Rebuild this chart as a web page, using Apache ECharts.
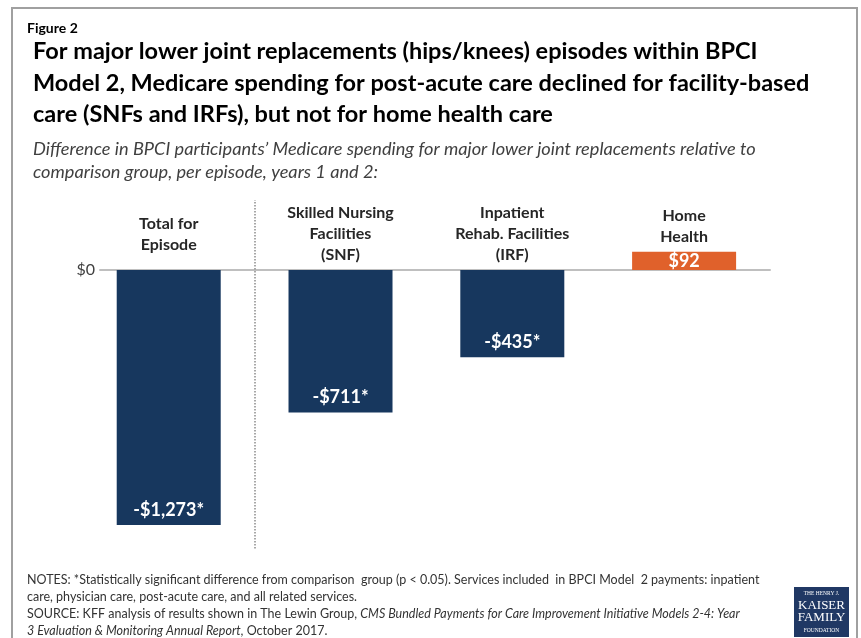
<!DOCTYPE html>
<html>
<head>
<meta charset="utf-8">
<script src="https://cdn.jsdelivr.net/npm/echarts@6/dist/echarts.min.js"></script>
<style>
  html, body { margin: 0; padding: 0; background: #fff; }
  #chart { width: 861px; height: 638px; }
</style>
</head>
<body>
<div id="chart"></div>
<script>
// chart data
const categories = ['Total for\nEpisode', 'Skilled Nursing\nFacilities\n(SNF)', 'Inpatient\nRehab. Facilities\n(IRF)', 'Home\nHealth'];
const values = [-1273, -711, -435, 92];
const significant = [true, true, true, false];
const yTicks = [0];

const NAVY = '#17375e';
const ORANGE = '#e0612b';
const FONT = 'Lato, "Open Sans", sans-serif';

// extra space under each category label (keeps text clear of the bars)
const labelGap = [10, 0, 0, 18];

function money(v) {
  return (v < 0 ? '-' : '') + '$' + Math.abs(v).toLocaleString('en-US');
}

const chart = echarts.init(document.getElementById('chart'));

chart.setOption({
  animation: false,
  backgroundColor: '#fff',
  title: [
    {
      text: 'Figure 2',
      left: 22, top: 16,
      textStyle: { fontFamily: FONT, fontSize: 14, fontWeight: 'bold', color: '#000' }
    },
    {
      text: 'For major lower joint replacements (hips/knees) episodes within BPCI\nModel 2, Medicare spending for post-acute care declined for facility-based\ncare (SNFs and IRFs), but not for home health care',
      left: 28, top: 31,
      textStyle: { fontFamily: FONT, fontSize: 23.5, fontWeight: 'bold', color: '#000', lineHeight: 31.5 }
    },
    {
      text: 'Difference in BPCI participants\u2019 Medicare spending for major lower joint replacements relative to\ncomparison group, per episode, years 1 and 2:',
      left: 28, top: 132.5,
      textStyle: { fontFamily: FONT, fontSize: 18.2, fontStyle: 'italic', fontWeight: 'normal', color: '#404040', lineHeight: 23 }
    },
    {
      text: 'NOTES: *Statistically significant difference from comparison  group (p < 0.05). Services included  in BPCI Model  2 payments: inpatient\n' +
            'care, physician care, post-acute care, and all related services.\n' +
            'SOURCE: KFF analysis of results shown in The Lewin Group, {i|CMS Bundled Payments for Care Improvement Initiative Models 2-4: Year}\n' +
            '{i|3 Evaluation & Monitoring Annual Report}, October 2017.',
      left: 22, top: 566.5,
      textStyle: {
        fontFamily: FONT, fontSize: 12.5, fontWeight: 'normal', color: '#333', lineHeight: 17,
        rich: { i: { fontFamily: FONT, fontSize: 12.5, fontStyle: 'italic', color: '#333', lineHeight: 17 } }
      }
    }
  ],
  grid: { left: 100, right: 91, top: 200, bottom: 89.5, containLabel: false, outerBoundsMode: 'none' },
  xAxis: {
    type: 'value',
    position: 'top',
    min: -0.4,
    max: 3.5,
    axisLine: { show: true, onZero: true, lineStyle: { color: '#bfbfbf', width: 2 } },
    axisTick: { show: false },
    splitLine: { show: false },
    axisLabel: {
      customValues: [0, 1, 2, 3],
      // labels are anchored at the grid top; pull them down to sit just above $0
      margin: -65.5,
      formatter: function (v) {
        const i = Math.round(v);
        let s = categories[i].split('\n').map(l => '{c|' + l + '}').join('\n');
        if (labelGap[i]) s += '\n{g' + i + '| }';
        return s;
      },
      rich: {
        c: { fontFamily: FONT, fontSize: 16, fontWeight: 'bold', color: '#262626', lineHeight: 21, align: 'center' },
        g0: { fontSize: 1, lineHeight: labelGap[0], height: labelGap[0] },
        g3: { fontSize: 1, lineHeight: labelGap[3], height: labelGap[3] }
      }
    }
  },
  yAxis: {
    type: 'value',
    min: -1390,
    max: 350,
    axisLine: { show: false },
    axisTick: { show: false },
    splitLine: { show: false },
    axisLabel: {
      customValues: yTicks,
      margin: 5,
      fontFamily: FONT, fontSize: 16, color: '#404040',
      formatter: v => money(v)
    }
  },
  series: [{
    type: 'bar',
    barWidth: 104,
    data: values.map((v, i) => ({
      value: [i, v],
      itemStyle: { color: v < 0 ? NAVY : ORANGE },
      label: { position: v < 0 ? 'insideBottom' : 'inside', distance: 6 }
    })),
    label: {
      show: true,
      fontFamily: FONT, fontSize: 18, fontWeight: 'bold', color: '#fff',
      formatter: p => money(p.value[1]) + (significant[p.dataIndex] ? '*' : '')
    },
    markLine: {
      silent: true,
      symbol: 'none',
      label: { show: false },
      lineStyle: { type: 'dotted', color: '#8c8c8c', width: 1.5 },
      data: [{ xAxis: 0.5 }]
    }
  }],
  graphic: [
    {
      type: 'rect',
      shape: { x: 12, y: 8, width: 845, height: 650 },
      style: { fill: 'none', stroke: '#a0a0a0', lineWidth: 2 },
      silent: true
    },
    {
      type: 'group',
      left: 794, top: 587,
      children: [
        { type: 'rect', shape: { x: 0, y: 0, width: 55, height: 50 }, style: { fill: '#203864' } },
        { type: 'text', x: 27.5, y: 7, style: { text: 'THE HENRY J.', fill: '#fff', font: '5.5px "Liberation Serif", serif', align: 'center', verticalAlign: 'middle' } },
        { type: 'text', x: 27.5, y: 19, style: { text: 'KAISER', fill: '#fff', font: '13px "Liberation Serif", serif', align: 'center', verticalAlign: 'middle' } },
        { type: 'text', x: 27.5, y: 31, style: { text: 'FAMILY', fill: '#fff', font: '13px "Liberation Serif", serif', align: 'center', verticalAlign: 'middle' } },
        { type: 'text', x: 27.5, y: 44, style: { text: 'FOUNDATION', fill: '#fff', font: '5.5px "Liberation Serif", serif', align: 'center', verticalAlign: 'middle' } }
      ]
    }
  ]
});
</script>
</body>
</html>
